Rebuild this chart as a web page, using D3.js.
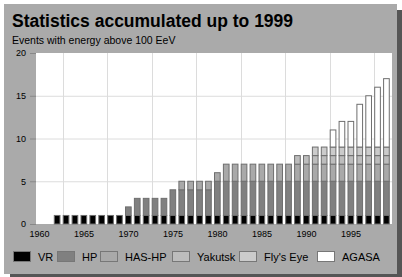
<!DOCTYPE html>
<html>
<head>
<meta charset="utf-8">
<script src="https://cdn.jsdelivr.net/npm/d3@7"></script>
<style>
    body { margin: 0; background: #ffffff; }
    svg text { font-family: 'Liberation Sans', Arial, sans-serif; fill: #000; }
</style>
</head>
<body>
<div id="chart"></div>
<script>
const years = [1960, 1961, 1962, 1963, 1964, 1965, 1966, 1967, 1968, 1969,
               1970, 1971, 1972, 1973, 1974, 1975, 1976, 1977, 1978, 1979,
               1980, 1981, 1982, 1983, 1984, 1985, 1986, 1987, 1988, 1989,
               1990, 1991, 1992, 1993, 1994, 1995, 1996, 1997, 1998, 1999];

const vr      = [0, 0, 1, 1, 1, 1, 1, 1, 1, 1,  1, 1, 1, 1, 1, 1, 1, 1, 1, 1,
                 1, 1, 1, 1, 1, 1, 1, 1, 1, 1,  1, 1, 1, 1, 1, 1, 1, 1, 1, 1];
const hp      = [0, 0, 0, 0, 0, 0, 0, 0, 0, 0,  1, 2, 2, 2, 2, 3, 3, 3, 3, 3,
                 4, 4, 4, 4, 4, 4, 4, 4, 4, 4,  4, 4, 4, 4, 4, 4, 4, 4, 4, 4];
const hasHp   = [0, 0, 0, 0, 0, 0, 0, 0, 0, 0,  0, 0, 0, 0, 0, 0, 1, 1, 1, 1,
                 1, 2, 2, 2, 2, 2, 2, 2, 2, 2,  2, 2, 2, 2, 2, 2, 2, 2, 2, 2];
const yakutsk = [0, 0, 0, 0, 0, 0, 0, 0, 0, 0,  0, 0, 0, 0, 0, 0, 0, 0, 0, 0,
                 0, 0, 0, 0, 0, 0, 0, 0, 0, 1,  1, 1, 1, 1, 1, 1, 1, 1, 1, 1];
const flysEye = [0, 0, 0, 0, 0, 0, 0, 0, 0, 0,  0, 0, 0, 0, 0, 0, 0, 0, 0, 0,
                 0, 0, 0, 0, 0, 0, 0, 0, 0, 0,  0, 1, 1, 1, 1, 1, 1, 1, 1, 1];
const agasa   = [0, 0, 0, 0, 0, 0, 0, 0, 0, 0,  0, 0, 0, 0, 0, 0, 0, 0, 0, 0,
                 0, 0, 0, 0, 0, 0, 0, 0, 0, 0,  0, 0, 0, 2, 3, 3, 5, 6, 7, 8];

const seriesNames = ['VR', 'HP', 'HAS-HP', 'Yakutsk', "Fly's Eye", 'AGASA'];
const seriesValues = [vr, hp, hasHp, yakutsk, flysEye, agasa];

const yTicks = [0, 5, 10, 15, 20];
const xTickLabels = [1960, 1965, 1970, 1975, 1980, 1985, 1990, 1995];
const xGridYears = [1963, 1968, 1973, 1978, 1983, 1988, 1993, 1998];

const title = 'Statistics accumulated up to 1999';
const subtitle = 'Events with energy above 100 EeV';

// layout
const WIDTH = 402;
const HEIGHT = 277;
const PLOT = { left: 36, right: 392, top: 53, bottom: 224 };
const colors = ['#000000', '#808080', '#a9a9a9', '#bdbdbd', '#cbcbcb', '#ffffff'];
const legendX = [13, 57, 100, 172, 239, 317];

const svg = d3.select('#chart')
    .append('svg')
    .attr('width', WIDTH)
    .attr('height', HEIGHT);

// panel with drop shadow
svg.append('rect')
    .attr('x', 10).attr('y', 10)
    .attr('width', 393).attr('height', 270)
    .style('fill', '#555555');

svg.append('rect')
    .attr('x', 4).attr('y', 4)
    .attr('width', 393).attr('height', 270)
    .style('fill', '#aaaaaa');

svg.append('text')
    .attr('x', 12).attr('y', 27)
    .style('font-size', '17.5px')
    .style('font-weight', 'bold')
    .text(title);

svg.append('text')
    .attr('x', 12).attr('y', 44)
    .style('font-size', '10.5px')
    .text(subtitle);

const xScale = d3.scaleLinear()
    .domain([1960, 2000])
    .range([PLOT.left, PLOT.right]);

const yScale = d3.scaleLinear()
    .domain([0, 20])
    .range([PLOT.bottom, PLOT.top]);

// plot background
svg.append('rect')
    .attr('x', PLOT.left).attr('y', PLOT.top)
    .attr('width', PLOT.right - PLOT.left)
    .attr('height', PLOT.bottom - PLOT.top)
    .style('fill', '#ffffff');

// grid
svg.append('g')
    .selectAll('line')
    .data(yTicks.filter(d => d > 0 && d < 20))
    .enter()
    .append('line')
    .attr('x1', PLOT.left).attr('x2', PLOT.right)
    .attr('y1', d => yScale(d) + 0.5).attr('y2', d => yScale(d) + 0.5)
    .style('stroke', '#dcdcdc');

svg.append('g')
    .selectAll('line')
    .data(xGridYears)
    .enter()
    .append('line')
    .attr('x1', d => Math.round(xScale(d)) + 0.5).attr('x2', d => Math.round(xScale(d)) + 0.5)
    .attr('y1', PLOT.top).attr('y2', PLOT.bottom)
    .style('stroke', '#dcdcdc');

// y axis
const yAxis = d3.axisLeft(yScale)
    .tickValues(yTicks)
    .tickSize(6)
    .tickPadding(4);

const yAxisG = svg.append('g')
    .attr('transform', `translate(${PLOT.left},0)`)
    .call(yAxis);
yAxisG.select('.domain').remove();
yAxisG.selectAll('.tick line').style('stroke', '#888888');
yAxisG.selectAll('.tick text')
    .style('font-size', '9px')
    .style('font-family', "'Liberation Sans', Arial, sans-serif")
    .style('fill', '#000');

// x axis labels
const xAxis = d3.axisBottom(xScale)
    .tickValues(xTickLabels)
    .tickFormat(d3.format('d'))
    .tickSize(0)
    .tickPadding(7);

const xAxisG = svg.append('g')
    .attr('transform', `translate(3,${PLOT.bottom})`)
    .call(xAxis);
xAxisG.select('.domain').remove();
xAxisG.selectAll('.tick text')
    .style('font-size', '9px')
    .style('font-family', "'Liberation Sans', Arial, sans-serif")
    .style('fill', '#000');

// stacked bars
const table = years.map((year, i) => {
    const row = { year: year };
    seriesNames.forEach((name, s) => { row[name] = seriesValues[s][i]; });
    return row;
});

const stacked = d3.stack().keys(seriesNames)(table);
const barWidth = (xScale(1961) - xScale(1960)) * 0.75;

svg.append('g')
    .selectAll('g')
    .data(stacked)
    .enter()
    .append('g')
    .style('fill', (d, i) => colors[i])
    .selectAll('rect')
    .data(d => d.filter(p => p[1] - p[0] > 0))
    .enter()
    .append('rect')
    .attr('x', d => xScale(d.data.year) + 0.5)
    .attr('y', d => yScale(d[1]))
    .attr('width', barWidth - 1)
    .attr('height', d => yScale(d[0]) - yScale(d[1]))
    .style('stroke', '#6e6e6e')
    .style('stroke-width', '1px');

// legend
const legend = svg.append('g')
    .attr('class', 'legend')
    .attr('transform', 'translate(0,251)');

seriesNames.forEach((name, i) => {
    const item = legend.append('g')
        .attr('transform', `translate(${legendX[i]},0)`);

    item.append('rect')
        .attr('x', 0.5).attr('y', 0.5)
        .attr('width', 17).attr('height', 10)
        .style('fill', colors[i])
        .style('stroke', '#777777')
        .style('stroke-width', '1px');

    item.append('text')
        .attr('x', 25)
        .attr('y', 10)
        .style('font-size', '11px')
        .text(name);
});
</script>
</body>
</html>
